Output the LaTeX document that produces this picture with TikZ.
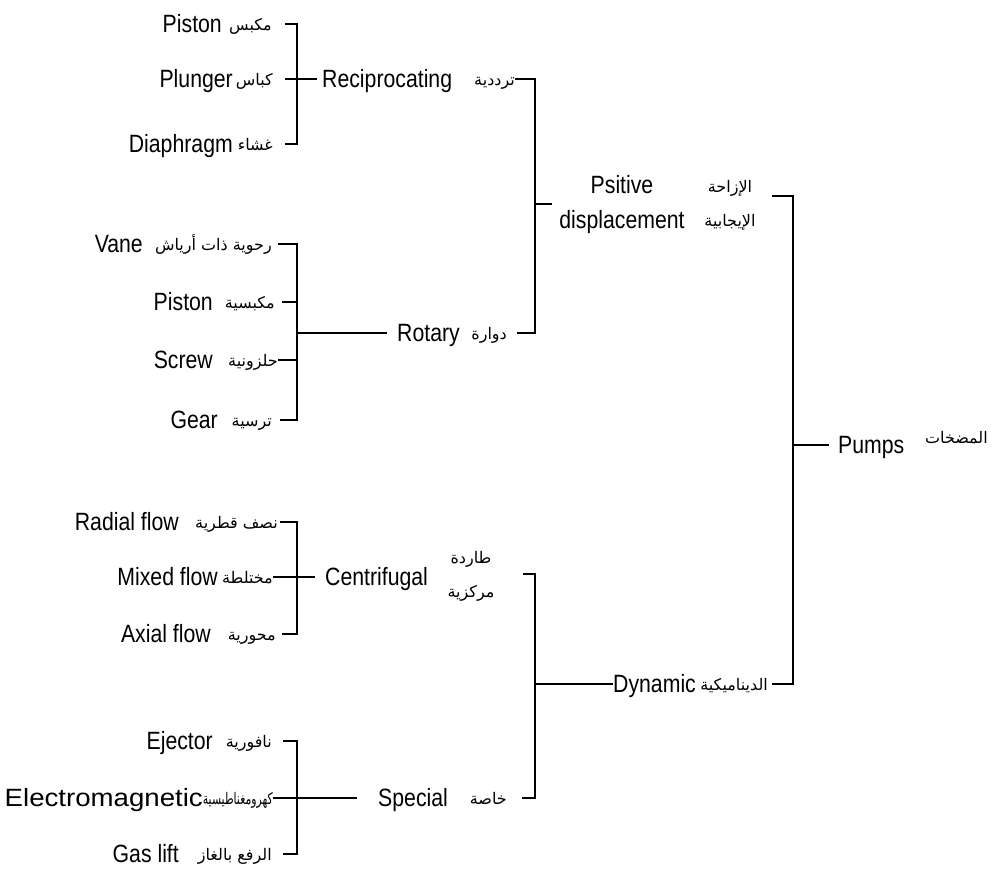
\documentclass[tikz,border=0pt]{standalone}
\usepackage{fontspec}
\usepackage{graphicx}
\setmainfont[FakeStretch=0.85]{Liberation Sans}
\newfontfamily\arfont[Script=Arabic]{DejaVu Sans}
\TeXXeTstate=1
\newcommand\artxt[1]{{\arfont\beginR #1\endR}}
\begin{document}
\begin{tikzpicture}[x=1pt,y=-1pt,
  en/.style={font=\fontsize{25}{30}\selectfont, inner sep=0pt, text height=17pt, text depth=0pt},
  ar/.style={font=\fontsize{16}{20}\selectfont, inner sep=0pt, text height=13pt, text depth=0pt},
  entwo/.style={font=\fontsize{25}{35}\selectfont, inner sep=0pt, align=center},
  artwo/.style={font=\fontsize{16}{34}\selectfont, inner sep=0pt, align=center},
  conn/.style={line width=1.2pt, black}]
\useasboundingbox (0,0) rectangle (998,872);
\fill[white] (0,0) rectangle (998,872);

% bracket junctions
\coordinate (g1) at (297,79);
\coordinate (g2) at (297,333);
\coordinate (g3) at (297,577);
\coordinate (g4) at (297,798);
\coordinate (g5) at (535,204);
\coordinate (g6) at (535,684);
\coordinate (g7) at (793,445);
\coordinate (pdtick) at (772,196);
\coordinate (centick) at (523,574);

% reciprocating group
\node[en,anchor=east] (pistE) at (222,24) {Piston};
\node[ar,anchor=east] (pistA) at (272,24) {\artxt{مكبس}};
\node[en,anchor=east] (plunE) at (233,79) {Plunger};
\node[ar,anchor=east] (plunA) at (273,79) {\artxt{كباس}};
\node[en,anchor=east] (diapE) at (233,144) {Diaphragm};
\node[ar,anchor=east] (diapA) at (273,144) {\artxt{غشاء}};
\node[en,anchor=west] (recE) at (322,79) {Reciprocating};
\node[ar,anchor=east] (recA) at (515,79) {\artxt{ترددية}};

% rotary group
\node[en,anchor=east] (vaneE) at (143,244) {Vane};
\node[ar,anchor=east] (vaneA) at (272,244) {\artxt{رحوية ذات أرياش}};
\node[en,anchor=east] (pstnE) at (213,302) {Piston};
\node[ar,anchor=east] (pstnA) at (275,302) {\artxt{مكبسية}};
\node[en,anchor=east] (screwE) at (213,360) {Screw};
\node[ar,anchor=east] (screwA) at (278,360) {\artxt{حلزونية}};
\node[en,anchor=east] (gearE) at (218,420) {Gear};
\node[ar,anchor=east] (gearA) at (272,420) {\artxt{ترسية}};
\node[en,anchor=west] (rotE) at (397,333) {Rotary};
\node[ar,anchor=east] (rotA) at (507,333) {\artxt{دوارة}};

% positive displacement
\node[entwo] (pdE) at (622,205) {Psitive\\displacement};
\node[artwo] (pdA) at (730,205) {\artxt{الإزاحة}\\\artxt{الإيجابية}};

% centrifugal group
\node[en,anchor=east] (radE) at (179,522) {Radial flow};
\node[ar,anchor=east] (radA) at (278,522) {\artxt{نصف قطرية}};
\node[en,anchor=east] (mixE) at (218,577) {Mixed flow};
\node[ar,anchor=east] (mixA) at (273,577) {\artxt{مختلطة}};
\node[en,anchor=east] (axE) at (211,634) {Axial flow};
\node[ar,anchor=east] (axA) at (276,634) {\artxt{محورية}};
\node[en,anchor=west] (cenE) at (325,577) {Centrifugal};
\node[artwo] (cenA) at (471,576) {\artxt{طاردة}\\\artxt{مركزية}};

% special group
\node[en,anchor=east] (ejE) at (213,741) {Ejector};
\node[ar,anchor=east] (ejA) at (272,741) {\artxt{نافورية}};
\node[en,anchor=east] (elE) at (203,798) {\scalebox{1.3}[1]{Electromagnetic}};
\node[ar,anchor=east] (elA) at (273,798) {\scalebox{0.68}[1]{\artxt{كهرومغناطيسية}}};
\node[en,anchor=east] (gasE) at (179,854) {Gas lift};
\node[ar,anchor=east] (gasA) at (272,854) {\artxt{الرفع بالغاز}};
\node[en,anchor=west] (speE) at (378,798) {Special};
\node[ar,anchor=east] (speA) at (507,798) {\artxt{خاصة}};

% dynamic and pumps
\node[en,anchor=west] (dynE) at (613,684) {Dynamic};
\node[ar,anchor=east] (dynA) at (768,684) {\artxt{الديناميكية}};
\node[en,anchor=west] (pumpsE) at (838,445) {Pumps};
\node[ar,anchor=east] (pumpsA) at (988,437) {\artxt{المضخات}};

% connectors: reciprocating
\draw[conn] (pistA.east) ++(13,0) -| (g1);
\draw[conn] (diapA.east) ++(12,0) -| (g1);
\draw[conn,shorten >=5pt] (plunA.east) ++(12,0) -- (recE.west);
% rotary
\draw[conn] (vaneA.east) ++(6,0) -| (g2);
\draw[conn] (gearA.east) ++(8,0) -| (g2);
\draw[conn] (pstnA.east) ++(7,0) -- (pstnA.east -| g2);
\draw[conn] (screwA.east) -- (screwA.east -| g2);
\draw[conn,shorten >=10pt] (g2) -- (rotE.west);
% positive displacement
\draw[conn] (recA.east) -| (g5);
\draw[conn] (rotA.east) ++(10,0) -| (g5);
\draw[conn,shorten >=7pt] (g5) -- (pdE.west |- g5);
% pumps
\draw[conn] (pdtick) -| (g7);
\draw[conn] (dynA.east) ++(4,0) -| (g7);
\draw[conn,shorten >=9pt] (g7) -- (pumpsE.west);
% dynamic
\draw[conn] (centick) -| (g6);
\draw[conn] (speA.east) ++(15,0) -| (g6);
\draw[conn] (g6) -- (dynE.west);
% centrifugal
\draw[conn] (radA.east) ++(2,0) -| (g3);
\draw[conn] (axA.east) ++(6,0) -| (g3);
\draw[conn,shorten >=10pt] (mixA.east) -- (cenE.west);
% special
\draw[conn] (ejA.east) ++(11,0) -| (g4);
\draw[conn] (gasA.east) ++(11,0) -| (g4);
\draw[conn,shorten >=21pt] (elA.east) -- (speE.west);
\end{tikzpicture}
\end{document}
